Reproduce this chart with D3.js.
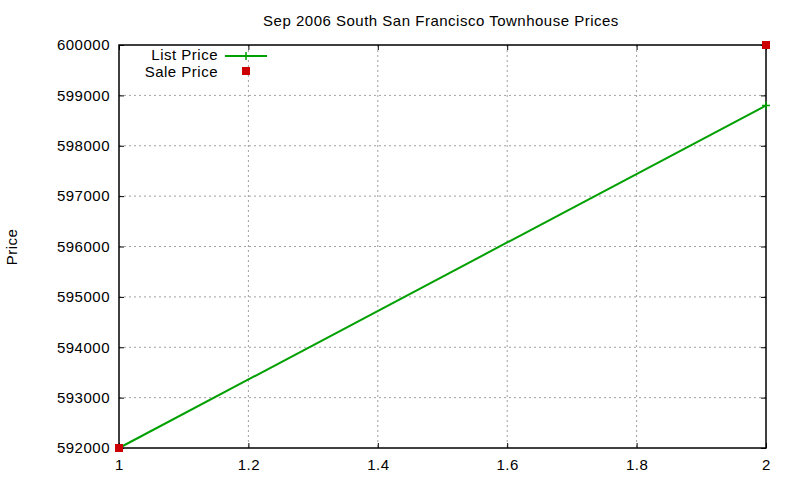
<!DOCTYPE html>
<html>
<head>
<meta charset="utf-8">
<script src="https://cdn.jsdelivr.net/npm/d3@7"></script>
<style>
  body { margin: 0; background: #fff; }
  text { font-family: "Liberation Sans", Arial, sans-serif; font-size: 15px; letter-spacing: 0.5px; fill: #000; }
  .grid line { stroke: #a0a0a0; stroke-dasharray: 2,3; }
</style>
</head>
<body>
<div id="chart"></div>
<script>
// data
const listX = [1, 2];
const listPrice = [592000, 598800];
const saleX = [1, 2];
const salePrice = [592000, 600000];
const xTicks = [1, 1.2, 1.4, 1.6, 1.8, 2];
const yTicks = [592000, 593000, 594000, 595000, 596000, 597000, 598000, 599000, 600000];

const width = 800, height = 480;
const margin = { top: 45, right: 34, bottom: 32, left: 119 };
const w = width - margin.left - margin.right;
const h = height - margin.top - margin.bottom;

const svg = d3.select("#chart")
    .append("svg")
    .attr("width", width)
    .attr("height", height);

const g = svg.append("g")
    .attr("transform", `translate(${margin.left}, ${margin.top})`);

const x = d3.scaleLinear().domain([1, 2]).range([0, w]);
const y = d3.scaleLinear().domain([592000, 600000]).range([h, 0]);

// grid
g.append("g").attr("class", "grid")
    .selectAll("line").data(xTicks.slice(1, -1)).enter().append("line")
    .attr("x1", d => x(d)).attr("x2", d => x(d))
    .attr("y1", 0).attr("y2", h);
g.append("g").attr("class", "grid")
    .selectAll("line").data(yTicks.slice(1, -1)).enter().append("line")
    .attr("x1", 0).attr("x2", w)
    .attr("y1", d => y(d)).attr("y2", d => y(d));

// axes with inward ticks, mirrored on all sides
function styleAxis(sel) {
    sel.select(".domain").remove();
    sel.selectAll(".tick line").attr("stroke", "#000").attr("stroke-width", 1);
    sel.selectAll("text").attr("font-family", null).attr("font-size", null);
}
g.append("g").attr("transform", `translate(0, ${h})`)
    .call(d3.axisBottom(x).tickValues(xTicks).tickSizeInner(-5).tickPadding(11).tickFormat(d3.format("")))
    .call(styleAxis);
g.append("g")
    .call(d3.axisTop(x).tickValues(xTicks).tickSizeInner(-5).tickFormat(""))
    .call(styleAxis);
g.append("g")
    .call(d3.axisLeft(y).tickValues(yTicks).tickSizeInner(-5).tickPadding(9).tickFormat(d3.format("d")))
    .call(styleAxis);
g.append("g").attr("transform", `translate(${w}, 0)`)
    .call(d3.axisRight(y).tickValues(yTicks).tickSizeInner(-5).tickFormat(""))
    .call(styleAxis);

// border
g.append("rect")
    .attr("width", w).attr("height", h)
    .attr("fill", "none").attr("stroke", "#000").attr("stroke-width", 1.5);

const green = "#00a000", red = "#cc0000";

// list price line
const listData = listX.map((d, i) => ({ x: d, y: listPrice[i] }));
g.append("path")
    .datum(listData)
    .attr("fill", "none")
    .attr("stroke", green)
    .attr("stroke-width", 2)
    .attr("d", d3.line().x(d => x(d.x)).y(d => y(d.y)));
g.selectAll(".plus").data(listData).enter().append("path")
    .attr("class", "plus")
    .attr("transform", d => `translate(${x(d.x)}, ${y(d.y)})`)
    .attr("d", "M-4,0H4M0,-4V4")
    .attr("stroke", green).attr("stroke-width", 1.5);

// sale price points
const saleData = saleX.map((d, i) => ({ x: d, y: salePrice[i] }));
g.selectAll(".sq").data(saleData).enter().append("rect")
    .attr("class", "sq")
    .attr("x", d => x(d.x) - 4).attr("y", d => y(d.y) - 4)
    .attr("width", 8).attr("height", 8)
    .attr("fill", red);

// legend
const leg = g.append("g");
leg.append("text").attr("x", 99).attr("y", 15).attr("text-anchor", "end").text("List Price");
leg.append("line").attr("x1", 106).attr("x2", 148).attr("y1", 11).attr("y2", 11)
    .attr("stroke", green).attr("stroke-width", 2);
leg.append("path").attr("transform", "translate(127, 11)").attr("d", "M-4,0H4M0,-4V4")
    .attr("stroke", green).attr("stroke-width", 1.5);
leg.append("text").attr("x", 99).attr("y", 32).attr("text-anchor", "end").text("Sale Price");
leg.append("rect").attr("x", 123).attr("y", 22).attr("width", 8).attr("height", 8).attr("fill", red);

// title and axis label
svg.append("text")
    .attr("x", 441).attr("y", 26)
    .attr("text-anchor", "middle")
    .text("Sep 2006 South San Francisco Townhouse Prices");
svg.append("text")
    .attr("transform", "translate(17, 247) rotate(-90)")
    .attr("text-anchor", "middle")
    .text("Price");
</script>
</body>
</html>
